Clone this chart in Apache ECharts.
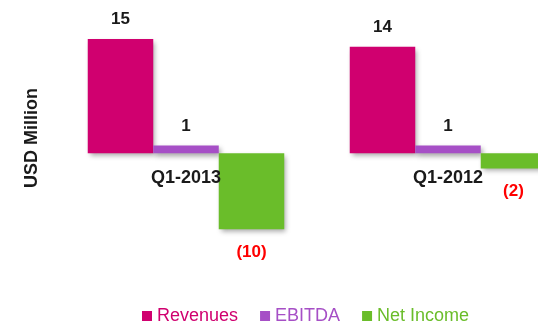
<!DOCTYPE html>
<html>
<head>
<meta charset="utf-8">
<script src="https://cdn.jsdelivr.net/npm/echarts@6/dist/echarts.min.js"></script>
<style>
  html, body { margin: 0; padding: 0; background: #fff; overflow: hidden; }
  #chart { width: 600px; height: 323px; }
</style>
</head>
<body>
<div id="chart"></div>
<script>
// Quarterly results, USD million
var categories = ['Q1-2013', 'Q1-2012'];
var revenues = [15, 14];
var ebitda = [1, 1];
var netIncome = [-10, -2];

var seriesNames = ['Revenues', 'EBITDA', 'Net Income'];
var seriesColors = ['#d0006f', '#a64fc6', '#6abd2a'];

var FONT = 'Liberation Sans, Arial, sans-serif';

function fmt(p) {
  var v = p.value;
  return v < 0 ? '(' + Math.abs(v) + ')' : String(v);
}

function barSeries(name, values, color, negative) {
  return {
    name: name,
    type: 'bar',
    data: values,
    barGap: '0%',
    barCategoryGap: '25%',
    itemStyle: {
      color: color,
      shadowColor: 'rgba(0,0,0,0.35)',
      shadowBlur: 5,
      shadowOffsetX: 2,
      shadowOffsetY: 3
    },
    label: {
      show: true,
      position: negative ? 'bottom' : 'top',
      distance: negative ? 14 : 11,
      formatter: fmt,
      fontFamily: FONT,
      fontWeight: 'bold',
      fontSize: 17,
      color: negative ? '#ff0000' : '#1a1a1a'
    }
  };
}

// Category names sit just under the zero line, drawn above the bars
var categoryLabels = {
  name: 'categoryLabels',
  type: 'scatter',
  z: 10,
  symbolSize: 0,
  silent: true,
  itemStyle: { opacity: 1 },
  data: categories.map(function (c) { return [c, 0]; }),
  label: {
    show: true,
    position: 'bottom',
    distance: 16,
    opacity: 1,
    formatter: function (p) { return p.value[0]; },
    fontFamily: FONT,
    fontWeight: 'bold',
    fontSize: 18,
    color: '#1a1a1a'
  }
};

// The plot runs past the right edge of the visible page on purpose
var chart = echarts.init(document.getElementById('chart'));
chart.setOption({
  animation: false,
  backgroundColor: '#ffffff',
  grid: { left: 55, top: 1, width: 524, height: 274 },
  xAxis: {
    type: 'category',
    data: categories,
    axisLine: { show: false },
    axisTick: { show: false },
    axisLabel: { show: false }
  },
  yAxis: {
    type: 'value',
    min: -16,
    max: 20,
    name: 'USD Million',
    nameLocation: 'middle',
    nameGap: 14,
    nameRotate: 90,
    nameTextStyle: {
      fontFamily: FONT,
      fontWeight: 'bold',
      fontSize: 18,
      color: '#1a1a1a'
    },
    axisLine: { show: false },
    axisTick: { show: false },
    axisLabel: { show: false },
    splitLine: { show: false }
  },
  legend: {
    left: 142,
    top: 307,
    padding: 0,
    itemWidth: 10,
    itemHeight: 10,
    itemGap: 22,
    icon: 'rect',
    textStyle: { fontFamily: FONT, fontSize: 18 },
    data: seriesNames.map(function (n, i) {
      return { name: n, textStyle: { color: seriesColors[i] } };
    })
  },
  series: [
    barSeries(seriesNames[0], revenues, seriesColors[0], false),
    barSeries(seriesNames[1], ebitda, seriesColors[1], false),
    barSeries(seriesNames[2], netIncome, seriesColors[2], true),
    categoryLabels
  ]
});
</script>
</body>
</html>
